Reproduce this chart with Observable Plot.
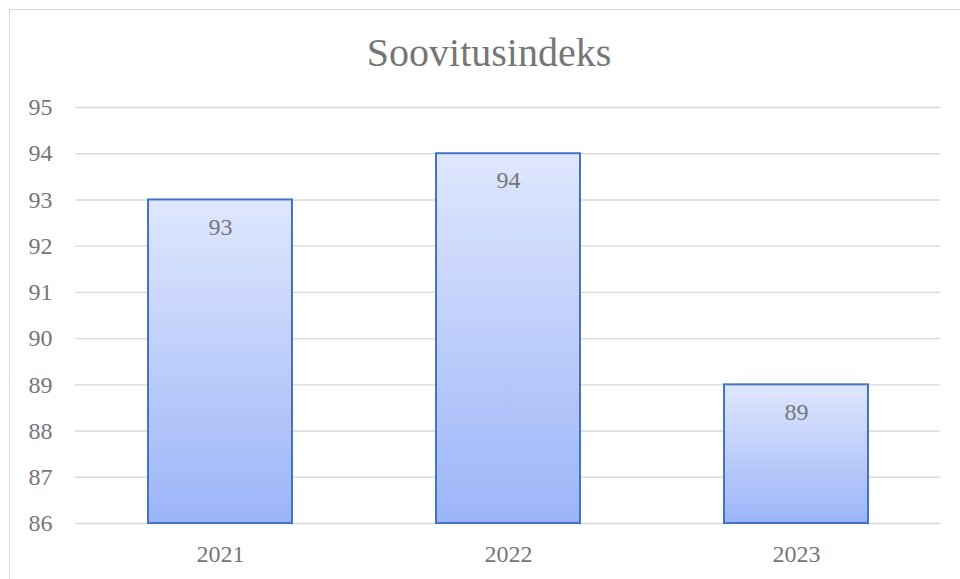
<!DOCTYPE html>
<html>
<head>
<meta charset="utf-8">
<script src="https://cdn.jsdelivr.net/npm/d3@7"></script>
<script src="https://cdn.jsdelivr.net/npm/@observablehq/plot@0.6"></script>
<style>
  html, body { margin: 0; padding: 0; background: #fff; }
  #wrap { position: relative; width: 960px; height: 579px; overflow: hidden; }
  #frame { position: absolute; left: 9px; top: 9px; width: 980px; height: 600px; border: 1px solid #d9d9d9; box-sizing: border-box; }
  #chart { position: absolute; left: 0; top: 0; }
</style>
</head>
<body>
<div id="wrap"><div id="frame"></div><div id="chart"></div></div>
<script>
const title = "Soovitusindeks";
const years = ["2021", "2022", "2023"];
const values = [93, 94, 89];
const yTicks = [86, 87, 88, 89, 90, 91, 92, 93, 94, 95];

const data = years.map((year, i) => ({year, value: values[i]}));
const font = "'Liberation Serif', 'Times New Roman', serif";
const textColor = "#767676";

const chart = Plot.plot({
  width: 960,
  height: 579,
  marginTop: 107,
  marginBottom: 56,
  marginLeft: 75,
  marginRight: 20,
  style: {fontFamily: font, fontSize: "24px", color: textColor, background: "transparent"},
  x: {domain: years, paddingInner: 0.5, paddingOuter: 0.25, label: null},
  y: {domain: [86, 95], label: null},
  marks: [
    Plot.ruleY(yTicks, {stroke: "#d9d9d9", strokeWidth: 1.4}),
    Plot.barY(data, {x: "year", y1: 86, y2: "value", fill: "url(#barGrad)", stroke: "#4472c4", strokeWidth: 2}),
    Plot.text(data, {x: "year", y: "value", text: d => String(d.value), dy: 27, fill: textColor, fontSize: 24, lineAnchor: "middle"}),
    Plot.axisY({ticks: yTicks, tickSize: 0, tickPadding: 23, fontSize: 24, fill: textColor, label: null}),
    Plot.axisX({tickSize: 0, tickPadding: 21, fontSize: 24, fill: textColor, label: null}),
    Plot.text([title], {frameAnchor: "top", dy: -54, dx: -19, lineAnchor: "middle", fontSize: 40, fill: textColor})
  ]
});

const svgNS = "http://www.w3.org/2000/svg";
const defs = document.createElementNS(svgNS, "defs");
const grad = document.createElementNS(svgNS, "linearGradient");
grad.setAttribute("id", "barGrad");
grad.setAttribute("x1", "0"); grad.setAttribute("y1", "0");
grad.setAttribute("x2", "0"); grad.setAttribute("y2", "1");
[["0%", "#dfe7fd"], ["100%", "#9cb5f8"]].forEach(([o, c]) => {
  const s = document.createElementNS(svgNS, "stop");
  s.setAttribute("offset", o);
  s.setAttribute("stop-color", c);
  grad.appendChild(s);
});
defs.appendChild(grad);
chart.insertBefore(defs, chart.firstChild);
document.getElementById("chart").appendChild(chart);
</script>
</body>
</html>
